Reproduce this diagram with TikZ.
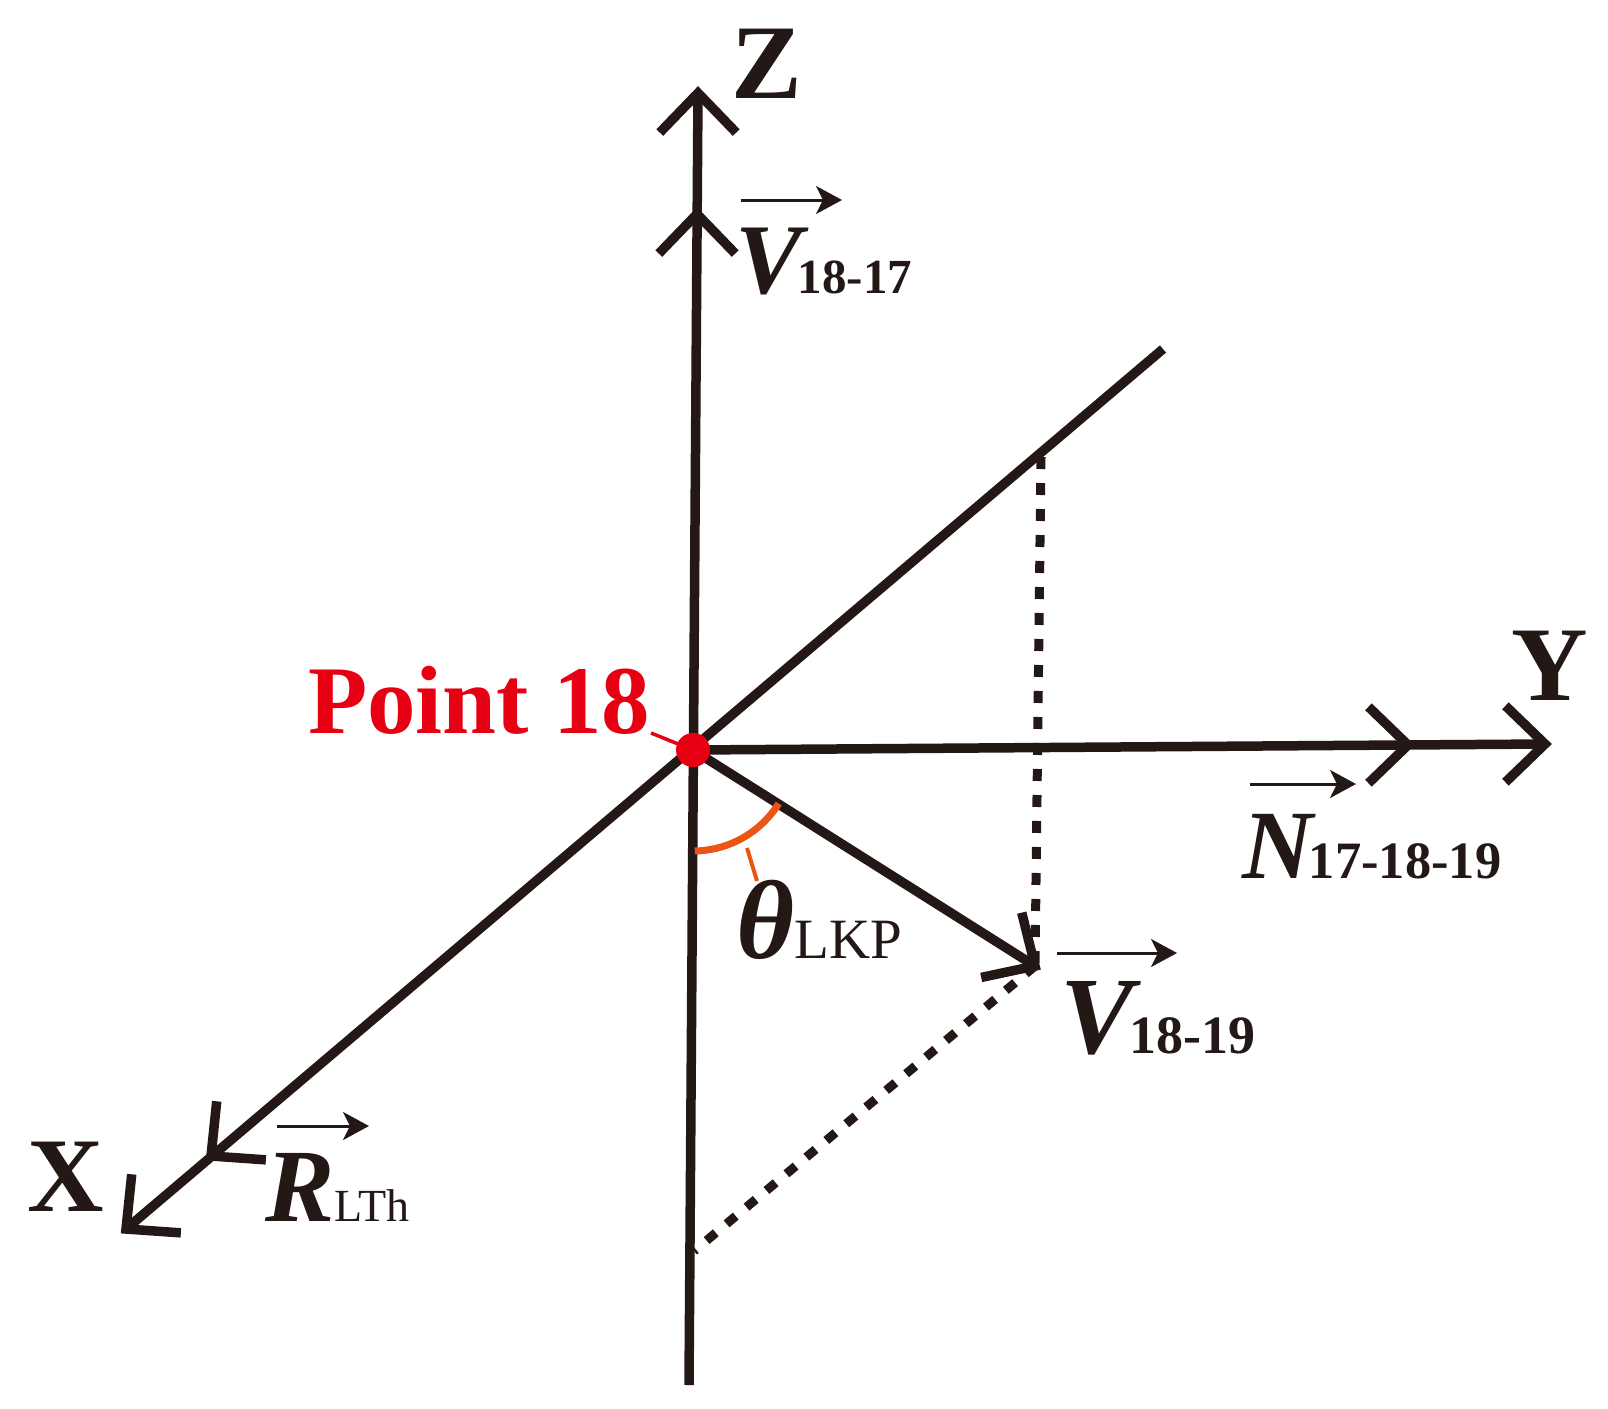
\documentclass[tikz,border=0pt]{standalone}
\usepackage{fontspec}
\setmainfont{Liberation Serif}
\usetikzlibrary{calc,arrows.meta}
\definecolor{ink}{HTML}{231815}
\definecolor{ptred}{HTML}{E60012}
\definecolor{arcorange}{HTML}{EA5514}
\newcommand{\mybarb}[2]{\draw[axisline] ($(#1)+(#2+44:55)$) -- (#1) -- ($(#1)+(#2-44:55)$);}
\begin{document}
\begin{tikzpicture}[x=1pt,y=-1pt,
  axisline/.style={line width=9.5pt,draw=ink,line join=miter,line cap=butt},
  dotline/.style={line width=9pt,draw=ink,dash pattern=on 12pt off 14pt},
  vecarrow/.style={line width=3pt,draw=ink,-{Stealth[length=26pt,width=28pt,inset=7pt]}},
  lbl/.style={inner sep=0pt,text=ink,anchor=base west}]
\useasboundingbox (0,0) rectangle (1608,1408);
% points
\coordinate (O) at (693,750);
\coordinate (Ztop) at (698,93);
\coordinate (Zb2) at (697,214);
\coordinate (Zbot) at (689,1385);
\coordinate (Ytip) at (1545,744);
\coordinate (Yb2) at (1408,745);
\coordinate (Xend) at (1163,349);
\coordinate (Xtip) at (126,1229);
\coordinate (Xb2) at (211,1156);
\coordinate (T) at (1035,966);
\coordinate (P) at (1041,457);
\coordinate (Q) at (694,1251);
% dotted projections
\draw[dotline] (P) -- (T);
\draw[dotline] (T) -- (Q);
% axes
\draw[axisline] (Zbot) -- (Ztop);
\mybarb{Ztop}{90}
\mybarb{Zb2}{90}
\draw[axisline] (O) -- (Ytip);
\mybarb{Ytip}{180}
\mybarb{Yb2}{180}
\draw[axisline] (Xend) -- (Xtip);
\mybarb{Xtip}{-40}
\mybarb{Xb2}{-40}
\draw[axisline] (O) -- (T);
\mybarb{T}{212}
% angle arc
\draw[arcorange,line width=7pt] plot[domain=32:89,samples=40] ({693+101*cos(\x)},{750+101*sin(\x)});
\coordinate (tickA) at (747,848);
\coordinate (tickB) at (757,881);
\draw[arcorange,line width=4pt] (tickA) -- (tickB);
% point 18
\node[lbl,text=ptred] (p18) at (308,733) {\fontsize{97}{97}\selectfont\bfseries Point 18};
\coordinate (lead) at (651,733);
\draw[ptred,line width=3.5pt] (lead) -- (O);
\fill[ptred] (O) circle (17);
% axis labels
\node[lbl] (zlab) at (731,98) {\fontsize{106}{106}\selectfont\bfseries Z};
\node[lbl] (ylab) at (1511,700) {\fontsize{106}{106}\selectfont\bfseries Y};
\node[lbl] (xlab) at (27,1211) {\fontsize{106}{106}\selectfont\bfseries X};
% vector labels
\node[lbl] (v1817) at (735,293) {\fontsize{100}{100}\selectfont\bfseries\itshape V\kern-4pt\fontsize{49}{49}\selectfont\upshape 18-17};
\coordinate (a1s) at (741,200); \coordinate (a1e) at (842,200);
\draw[vecarrow] (a1s) -- (a1e);
\node[lbl] (n171819) at (1242,878) {\fontsize{98}{98}\selectfont\bfseries\itshape N\kern-4pt\fontsize{52.5}{52.5}\selectfont\upshape 17-18-19};
\coordinate (a2s) at (1250,784); \coordinate (a2e) at (1356,784);
\draw[vecarrow] (a2s) -- (a2e);
\node[lbl] (rlth) at (265,1221) {\fontsize{104}{104}\selectfont\bfseries\itshape R\fontsize{46}{46}\selectfont\mdseries\upshape LTh};
\coordinate (a3s) at (277,1126); \coordinate (a3e) at (369,1126);
\draw[vecarrow] (a3s) -- (a3e);
\node[lbl] (v1819) at (1060,1053) {\fontsize{110}{110}\selectfont\bfseries\itshape V\kern-4pt\fontsize{54}{54}\selectfont\upshape 18-19};
\coordinate (a4s) at (1057,953); \coordinate (a4e) at (1177,953);
\draw[vecarrow] (a4s) -- (a4e);
\node[lbl] (theta) at (736,958) {\fontsize{112}{112}\selectfont\bfseries\itshape θ\fontsize{57}{57}\selectfont\mdseries\upshape LKP};
\end{tikzpicture}
\end{document}
